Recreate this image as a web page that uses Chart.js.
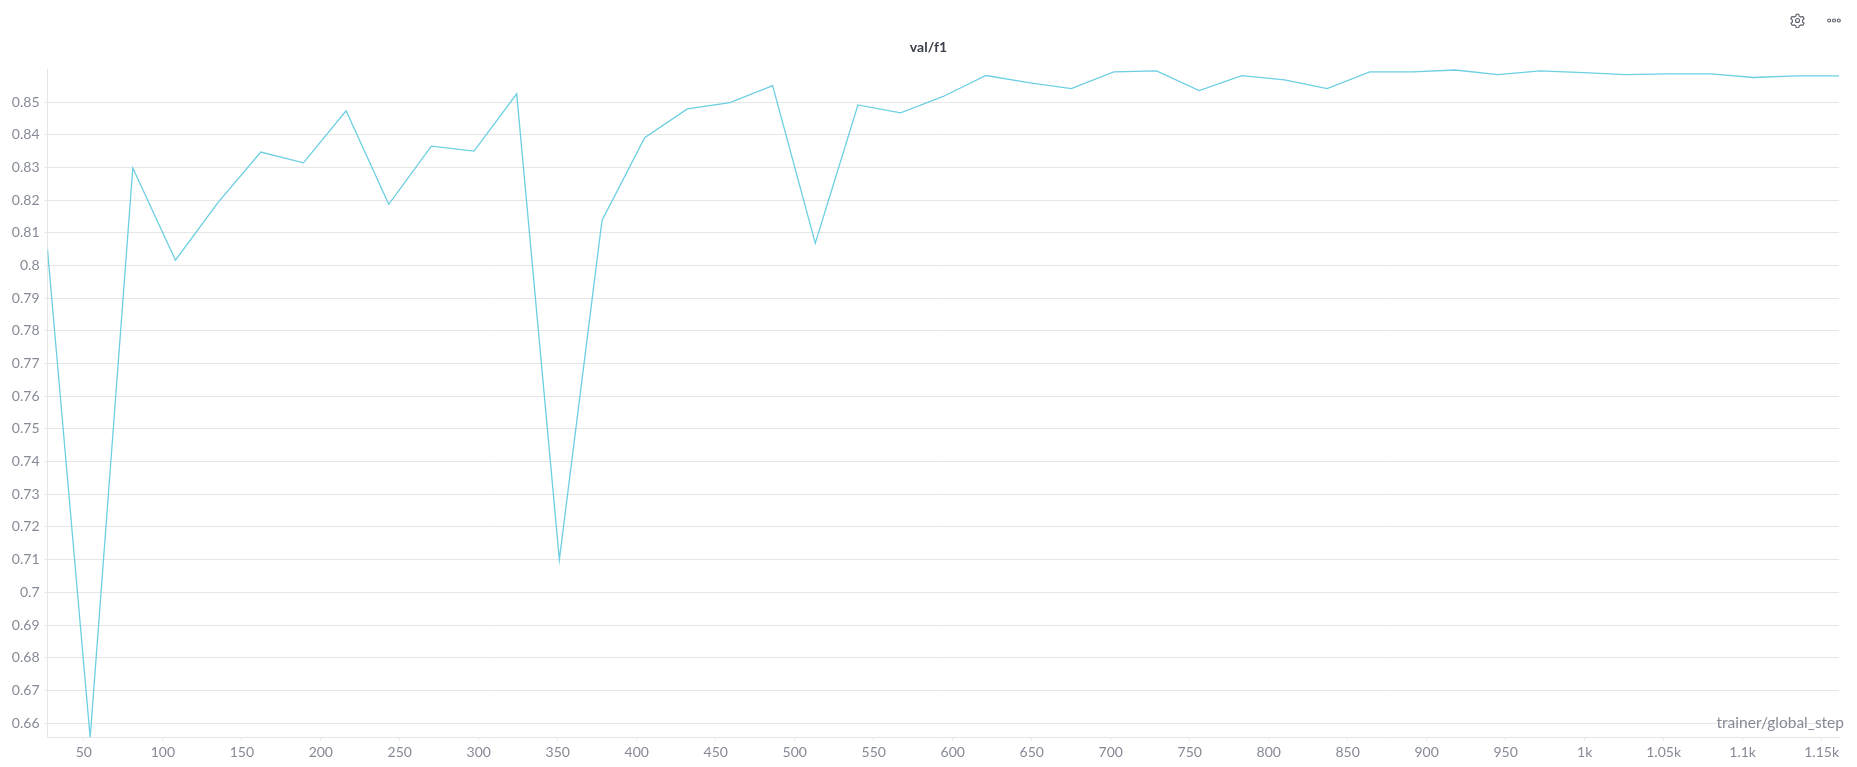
<!DOCTYPE html>
<html>
<head>
<meta charset="utf-8">
<title>val/f1</title>
<script src="https://cdn.jsdelivr.net/npm/chart.js@4"></script>
<style>
    html, body { margin: 0; padding: 0; background: #fff; overflow: hidden; }
    #wrap { position: relative; width: 1857px; height: 767px; }
    #xName {
        position: absolute; right: 13px; top: 713px;
        font: 15.500px Lato, sans-serif; color: #868a96; background: transparent;
    }
    #chartTitle {
        position: absolute; left: 0; width: 1857px; top: 38px; text-align: center;
        font: bold 14px Lato, sans-serif; color: #3b3f4a;
    }
    #gear { position: absolute; left: 1790px; top: 13px; }
    #more { position: absolute; left: 1827px; top: 16px; }
</style>
</head>
<body>
<div id="wrap">
    <canvas id="f1Chart" width="1857" height="767"></canvas>
    <div id="chartTitle">val/f1</div>
    <div id="xName">trainer/global_step</div>
    <svg id="gear" width="15" height="15" viewBox="0 0 24 24" fill="none" stroke="#5b5e69" stroke-width="1.8">
        <circle cx="12" cy="12" r="3.2"/>
        <path d="M10 2h4l.7 3 2.7 1.5 3-.9 2 3.5-2.2 2.1v3.1l2.2 2.1-2 3.5-3-.9-2.7 1.5-.7 3h-4l-.7-3-2.7-1.5-3 .9-2-3.5 2.2-2.1v-3.1L1.3 9.1l2-3.5 3 .9L9.300 5z"/>
    </svg>
    <svg id="more" width="14" height="9" viewBox="0 0 14 9" fill="none" stroke="#5b5e69" stroke-width="1.1">
        <circle cx="2.200" cy="4.500" r="1.500"/>
        <circle cx="7" cy="4.500" r="1.500"/>
        <circle cx="11.800" cy="4.500" r="1.500"/>
    </svg>
</div>
<script>
const steps = [27, 54, 81, 108, 135, 162, 189, 216, 243, 270, 297, 324, 351, 378, 405,
    432, 459, 486, 513, 540, 567, 594, 621, 648, 675, 702, 729, 756, 783, 810,
    837, 864, 891, 918, 945, 972, 999, 1026, 1053, 1080, 1107, 1134, 1161];
const f1Values = [0.8048, 0.6556, 0.8298, 0.8016, 0.8193, 0.8347, 0.8314, 0.8473, 0.8187, 0.8365, 0.8350, 0.8525, 0.7100, 0.8138, 0.8391,
    0.8479, 0.8498, 0.8550, 0.8068, 0.8491, 0.8467, 0.8517, 0.8581, 0.8559, 0.8541, 0.8592, 0.8595, 0.8535, 0.8581, 0.8568,
    0.8541, 0.8592, 0.8592, 0.8598, 0.8584, 0.8595, 0.8590, 0.8584, 0.8586, 0.8586, 0.8575, 0.8580, 0.8580];
const xTickValues = [50, 100, 150, 200, 250, 300, 350, 400, 450, 500, 550, 600, 650, 700, 750, 800, 850, 900, 950, 1000, 1050, 1100, 1150];
const xTickLabels = ['50', '100', '150', '200', '250', '300', '350', '400', '450', '500', '550', '600', '650', '700', '750', '800', '850', '900', '950', '1k', '1.05k', '1.1k', '1.15k'];
const yTickValues = [0.66, 0.67, 0.68, 0.69, 0.7, 0.71, 0.72, 0.73, 0.74, 0.75, 0.76, 0.77, 0.78, 0.79, 0.8, 0.81, 0.82, 0.83, 0.84, 0.85];
const yTickLabels = ['0.66', '0.67', '0.68', '0.69', '0.7', '0.71', '0.72', '0.73', '0.74', '0.75', '0.76', '0.77', '0.78', '0.79', '0.8', '0.81', '0.82', '0.83', '0.84', '0.85'];

const tickColor = '#868a96';
const gridColor = '#e6e6e6';
const tickFont = { family: 'Lato', size: 14 };

const ctx = document.getElementById('f1Chart').getContext('2d');
new Chart(ctx, {
    type: 'line',
    data: {
        datasets: [{
            label: 'val/f1',
            data: steps.map((s, i) => ({ x: s, y: f1Values[i] })),
            borderColor: '#6ccfe2',
            borderWidth: 1.3,
            pointRadius: 0,
            tension: 0,
            fill: false
        }]
    },
    options: {
        responsive: false,
        animation: false,
        // title sits in html, so the top padding keeps the plot area where it was
        layout: { padding: { top: 69, left: 0, right: 18, bottom: 0 } },
        plugins: {
            legend: { display: false },
            tooltip: { enabled: false },
            title: { display: false }
        },
        scales: {
            x: {
                type: 'linear',
                min: 27,
                max: 1161,
                afterBuildTicks: axis => { axis.ticks = xTickValues.map(v => ({ value: v })); },
                afterFit: axis => { axis.height = 29.5; },
                ticks: {
                    color: tickColor,
                    font: tickFont,
                    padding: 4,
                    autoSkip: false,
                    maxRotation: 0,
                    callback: (value, i) => xTickLabels[i]
                },
                grid: { drawOnChartArea: false, color: gridColor, tickLength: 3 },
                border: { color: gridColor }
            },
            y: {
                min: 0.6556,
                max: 0.8601,
                afterBuildTicks: axis => { axis.ticks = yTickValues.map(v => ({ value: v })); },
                afterFit: axis => { axis.width = 47.5; },
                ticks: {
                    color: tickColor,
                    font: tickFont,
                    padding: 5,
                    autoSkip: false,
                    callback: (value, i) => yTickLabels[i]
                },
                grid: { color: gridColor, tickLength: 3 },
                border: { color: gridColor }
            }
        }
    }
});
</script>
</body>
</html>
